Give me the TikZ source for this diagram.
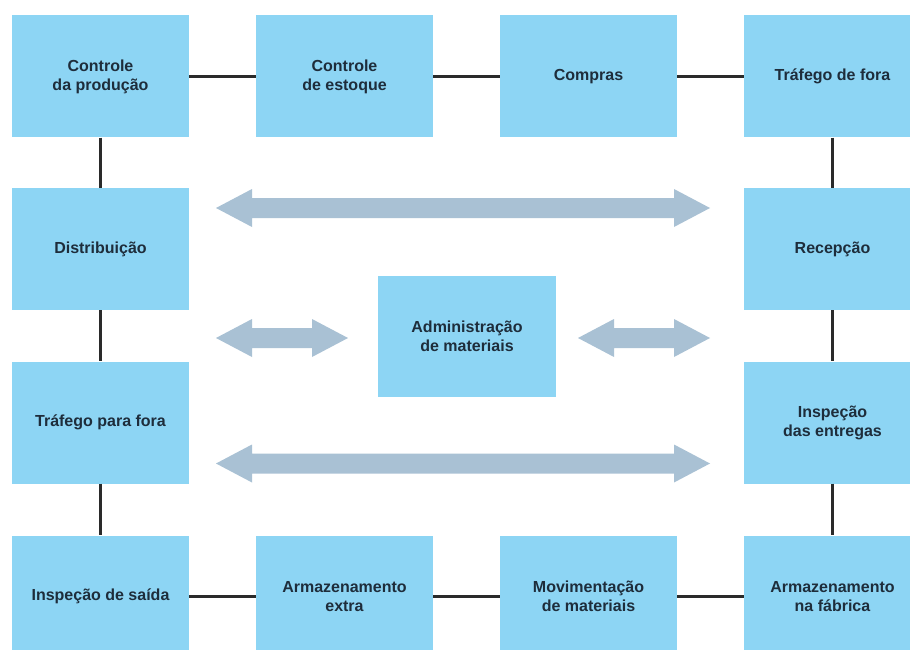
\documentclass[tikz,border=0pt]{standalone}
\usepackage{fontspec}
\setmainfont{Liberation Sans}
\definecolor{boxblue}{HTML}{8DD5F4}
\definecolor{arrowblue}{HTML}{A9C1D4}
\definecolor{txt}{HTML}{1E2D3B}
\definecolor{linec}{HTML}{2A2A2A}
\begin{document}
\begin{tikzpicture}[x=1pt,y=-1pt,
  blk/.style={rectangle, fill=boxblue, minimum width=177pt, minimum height=122pt, inner sep=0pt,
    align=center, text=txt, font=\fontsize{16}{19}\selectfont\bfseries},
  link/.style={draw=linec, line width=3pt},
  flow/.style={fill=arrowblue}]
\clip (0,0) rectangle (910,650);
\fill[white] (0,0) rectangle (910,650);
% row 1
\node[blk] (cp) at (100.5,76.5) {Controle\\da produção};
\node[blk] (ce) at (344.5,76.5) {Controle\\de estoque};
\node[blk] (co) at (588.5,76.5) {Compras};
\node[blk] (tf) at (832.5,76.5) {Tráfego de fora};
% row 2
\node[blk] (di) at (100.5,249) {Distribuição};
\node[blk] (re) at (832.5,249) {Recepção};
% row 3
\node[blk] (tp) at (100.5,422.5) {Tráfego para fora};
\node[blk] (ie) at (832.5,422.5) {Inspeção\\das entregas};
% row 4
\node[blk] (is) at (100.5,596.5) {Inspeção de saída};
\node[blk] (ae) at (344.5,596.5) {Armazenamento\\extra};
\node[blk] (mm) at (588.5,596.5) {Movimentação\\de materiais};
\node[blk] (af) at (832.5,596.5) {Armazenamento\\na fábrica};
% centre
\node[blk, minimum width=178pt, minimum height=121pt] (am) at (467,336.5) {Administração\\de materiais};
% connectors
\draw[link] (cp) -- (ce);
\draw[link] (ce) -- (co);
\draw[link] (co) -- (tf);
\draw[link] (cp) -- (di);
\draw[link] (di) -- (tp);
\draw[link] (tp) -- (is);
\draw[link] (tf) -- (re);
\draw[link] (re) -- (ie);
\draw[link] (ie) -- (af);
\draw[link] (is) -- (ae);
\draw[link] (ae) -- (mm);
\draw[link] (mm) -- (af);
% flow arrows
\fill[flow] (216,208) -- (252,189) -- (252,198) -- (674,198) -- (674,189) -- (710,208)
  -- (674,227) -- (674,218) -- (252,218) -- (252,227) -- cycle;
\fill[flow] (216,463.5) -- (252,444.5) -- (252,453.5) -- (674,453.5) -- (674,444.5) -- (710,463.5)
  -- (674,482.5) -- (674,473.5) -- (252,473.5) -- (252,482.5) -- cycle;
\fill[flow] (216,338) -- (252,319) -- (252,328) -- (312,328) -- (312,319) -- (348,338)
  -- (312,357) -- (312,348) -- (252,348) -- (252,357) -- cycle;
\fill[flow] (578,338) -- (614,319) -- (614,328) -- (674,328) -- (674,319) -- (710,338)
  -- (674,357) -- (674,348) -- (614,348) -- (614,357) -- cycle;
\end{tikzpicture}
\end{document}
